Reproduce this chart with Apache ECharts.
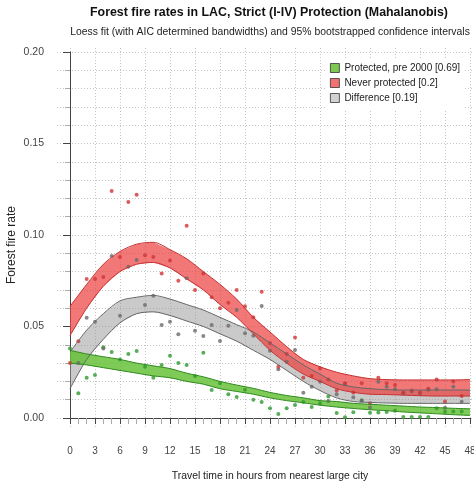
<!DOCTYPE html>
<html>
<head>
<meta charset="utf-8">
<script src="https://cdn.jsdelivr.net/npm/echarts@6/dist/echarts.min.js"></script>
<style>
  html, body { margin: 0; padding: 0; background: #fff; }
  #chart { width: 474px; height: 486px; }
</style>
</head>
<body>
<div id="chart"></div>
<script>
// Travel time (hours) at which each fire rate was measured
const hours = [0,1,2,3,4,5,6,7,8,9,10,11,12,13,14,15,16,17,18,19,20,21,22,23,
               24,25,26,27,28,29,30,31,32,33,34,35,36,37,38,39,40,41,42,43,44,45,46,47];

// Observed forest fire rates
const protectedRate = [0.038,0.0135,0.022,0.0235,0.0386,0.036,0.032,0.035,0.0366,0.028,0.022,0.029,
                       0.034,0.030,0.029,0.023,0.0357,0.0153,0.019,0.013,0.0115,0.0155,0.010,0.0088,
                       0.0053,0.0022,0.0053,0.0071,0.0088,0.006,0.008,0.0117,0.0027,0.0004,0.0032,0.0095,
                       0.0029,0.003,0.0033,0.004,0.0005,0.0005,0.0005,0.0005,0.0053,0.0034,0.0035,0.0036];
const neverRate = [0.030,0.042,0.076,0.076,0.077,0.124,0.088,0.118,0.122,0.089,0.088,0.079,
                   0.086,0.075,0.105,0.070,0.079,0.066,0.060,0.063,0.070,0.061,0.055,0.069,
                   0.041,0.028,0.035,0.044,0.022,0.023,0.027,0.021,0.015,0.019,0.014,0.019,
                   0.008,0.022,0.019,0.018,0.014,0.015,0.014,0.016,0.021,0.009,0.020,0.012];
const diffRate = [null,0.030,0.0548,0.0526,0.038,0.0885,0.0559,0.0827,0.0863,0.0617,0.0668,0.0508,
                  0.0526,0.0457,0.0763,0.0477,0.0448,0.0508,0.0421,0.0504,0.0590,0.0463,0.0450,0.0612,
                  0.0368,0.0266,0.0308,0.0372,0.0138,0.0171,0.0198,0.0093,0.013,0.0186,0.0113,0.0095,
                  0.0058,0.0198,0.0171,0.0157,0.0135,0.0145,0.0135,0.0155,0.0157,0.0056,0.0171,0.0089];

// Loess fits: 95% bootstrapped confidence bounds
const fitHours = [0,2,4,6,8,10,12,14,16,18,20,22,24,26,28,30,32,34,36,38,40,42,44,46,48];
const neverLo = [0.045,0.060,0.072,0.080,0.084,0.085,0.082,0.076,0.070,0.062,0.055,0.046,0.037,
                 0.030,0.024,0.020,0.016,0.014,0.013,0.0128,0.0125,0.0122,0.012,0.012,0.012];
const neverHi = [0.061,0.073,0.084,0.091,0.095,0.096,0.092,0.087,0.080,0.073,0.065,0.055,0.047,
                 0.039,0.032,0.028,0.025,0.023,0.0215,0.021,0.0208,0.0208,0.0208,0.0208,0.021];
const diffLo = [0.016,0.032,0.043,0.052,0.057,0.058,0.056,0.053,0.050,0.046,0.042,0.037,0.032,
                0.026,0.020,0.015,0.011,0.009,0.0085,0.0082,0.008,0.008,0.008,0.008,0.008];
const diffHi = [0.036,0.048,0.057,0.064,0.066,0.067,0.065,0.062,0.059,0.055,0.051,0.047,0.041,
                0.035,0.029,0.024,0.019,0.017,0.016,0.0155,0.0153,0.0153,0.0153,0.0153,0.0153];
const protLo = [0.030,0.029,0.0275,0.026,0.0245,0.023,0.022,0.020,0.0185,0.016,0.0145,0.013,0.011,
                0.0095,0.0083,0.007,0.006,0.0052,0.0045,0.004,0.0033,0.0028,0.0023,0.0018,0.0014];
const protHi = [0.037,0.035,0.0335,0.032,0.030,0.0285,0.027,0.0245,0.0225,0.020,0.018,0.0162,0.014,
                0.0123,0.011,0.0095,0.009,0.008,0.0075,0.007,0.0065,0.006,0.0057,0.0053,0.005];

// Axis ticks
const xTicks = { min: 0, max: 48, step: 3 };
const yTicks = { min: 0, max: 0.2, step: 0.05, guide: 0.01 };

const FONT = 'Liberation Sans, Arial, sans-serif';

const groups = [
  { name: 'Difference [0.19]', lo: diffLo, hi: diffHi, pts: diffRate,
    fill: 'rgba(150,150,150,0.5)', edge: '#666666', dot: '#6a6a6a', legend: '#d2d2d2' },
  { name: 'Protected, pre 2000 [0.69]', lo: protLo, hi: protHi, pts: protectedRate,
    fill: 'rgba(95,190,45,0.8)', edge: '#2f8a1f', dot: '#2e9a2e', legend: '#7cc850' },
  { name: 'Never protected [0.2]', lo: neverLo, hi: neverHi, pts: neverRate,
    fill: 'rgba(236,62,62,0.7)', edge: '#c43030', dot: '#d03535', legend: '#f07272' }
];

// confidence band as one filled polygon: lower bound forward, upper bound back
function bandRenderer(g) {
  return function (params, api) {
    if (params.dataIndex !== 0) return null;
    const pts = [];
    for (let i = 0; i < fitHours.length; i++) pts.push(api.coord([fitHours[i], g.lo[i]]));
    for (let i = fitHours.length - 1; i >= 0; i--) pts.push(api.coord([fitHours[i], g.hi[i]]));
    return {
      type: 'polygon',
      shape: { points: pts },
      style: { fill: g.fill, stroke: null }
    };
  };
}

const series = [];
groups.forEach(function (g) {
  series.push({
    type: 'custom', name: g.name, silent: true, clip: true,
    xAxisIndex: 0, yAxisIndex: 0,
    itemStyle: { color: g.legend },
    renderItem: bandRenderer(g),
    encode: { x: 0, y: [1, 2] },
    data: fitHours.map(function (h, i) { return [h, g.lo[i], g.hi[i]]; })
  });
  [g.lo, g.hi].forEach(function (bound, k) {
    series.push({
      type: 'line', name: g.name + (k ? ' upper' : ' lower'), silent: true,
      xAxisIndex: 0, yAxisIndex: 0, smooth: 0.3, symbol: 'none',
      lineStyle: { color: g.edge, width: 1 },
      data: fitHours.map(function (h, i) { return [h, bound[i]]; })
    });
  });
});
// observed points drawn above all bands
[groups[1], groups[0], groups[2]].forEach(function (g) {
  series.push({
    type: 'scatter', name: g.name + ' points', silent: true,
    xAxisIndex: 0, yAxisIndex: 0, symbolSize: 4,
    itemStyle: { color: g.dot },
    data: hours.map(function (h, i) { return g.pts[i] == null ? null : [h, g.pts[i]]; })
              .filter(function (d) { return d; })
  });
});

const guideLine = { show: true, lineStyle: { color: '#c4c4c4', type: [1, 2], width: 1 } };
const off = { show: false };
const gridBase = { outerBoundsMode: 'none', containLabel: false };

const option = {
  animation: false,
  backgroundColor: '#ffffff',
  textStyle: { fontFamily: FONT },
  title: [
    { text: 'Forest fire rates in LAC, Strict (I-IV) Protection (Mahalanobis)',
      left: 269, top: 7, textAlign: 'center', padding: 0,
      textStyle: { fontFamily: FONT, fontSize: 12.4, fontWeight: 'bold', color: '#111' } },
    { text: 'Loess fit (with AIC determined bandwidths) and 95% bootstrapped confidence intervals',
      left: 270, top: 27, textAlign: 'center', padding: 0,
      textStyle: { fontFamily: FONT, fontSize: 10.4, fontWeight: 'normal', color: '#222' } }
  ],
  legend: {
    orient: 'vertical', left: 327, top: 58, padding: [4, 3, 6, 3],
    backgroundColor: '#ffffff', itemWidth: 9, itemHeight: 9, itemGap: 3, itemTextGap: 10,
    selectedMode: false,
    textStyle: { fontFamily: FONT, fontSize: 10, color: '#222', lineHeight: 12 },
    data: [groups[1], groups[2], groups[0]].map(function (g) {
      return { name: g.name, icon: 'rect',
               itemStyle: { color: g.legend, borderColor: '#333', borderWidth: 0.8 } };
    })
  },
  graphic: [{
    type: 'text', x: 12, y: 245, rotation: Math.PI / 2, silent: true,
    style: { text: 'Forest fire rate', font: '12px ' + FONT, fill: '#222',
             align: 'center', verticalAlign: 'middle' }
  }],
  grid: [
    Object.assign({ left: 70, right: 4, top: 52, bottom: 68 }, gridBase),   // data area
    Object.assign({ left: 70, right: 4, top: 48, bottom: 58 }, gridBase),   // vertical guides
    Object.assign({ left: 57, right: 0, top: 52, bottom: 68 }, gridBase)    // horizontal guides
  ],
  xAxis: [
    { gridIndex: 0, type: 'value', min: xTicks.min, max: xTicks.max, interval: xTicks.step,
      offset: 14, splitLine: off,
      axisLine: { show: true, lineStyle: { color: '#444', width: 1 } },
      axisTick: { show: true, length: 6, lineStyle: { color: '#444' } },
      minorTick: { show: true, splitNumber: 3, length: 6, lineStyle: { color: '#aaa' } },
      axisLabel: { fontFamily: FONT, fontSize: 10, color: '#444', margin: 14, hideOverlap: false },
      name: 'Travel time in hours from nearest large city', nameLocation: 'middle', nameGap: 39,
      nameTextStyle: { fontFamily: FONT, fontSize: 10.4, color: '#222' } },
    { gridIndex: 1, type: 'value', min: xTicks.min, max: xTicks.max, interval: xTicks.step,
      axisLine: off, axisTick: off, axisLabel: off, splitLine: guideLine },
    { gridIndex: 2, type: 'value', min: 0, max: 1, show: false }
  ],
  yAxis: [
    { gridIndex: 0, type: 'value', min: yTicks.min, max: yTicks.max, interval: yTicks.step,
      offset: 15, splitLine: off,
      axisLine: { show: true, lineStyle: { color: '#444', width: 1 } },
      axisTick: { show: true, length: 7, lineStyle: { color: '#444' } },
      minorTick: { show: true, splitNumber: 5, length: 5, lineStyle: { color: '#aaa' } },
      axisLabel: { fontFamily: FONT, fontSize: 10.5, color: '#444', margin: 11,
                   formatter: function (v) { return v.toFixed(2); } } },
    { gridIndex: 1, type: 'value', min: 0, max: 1, show: false },
    { gridIndex: 2, type: 'value', min: yTicks.min, max: yTicks.max, interval: yTicks.guide,
      axisLine: off, axisTick: off, axisLabel: off, splitLine: guideLine }
  ],
  series: series
};

const chart = echarts.init(document.getElementById('chart'), null, { renderer: 'canvas' });
chart.setOption(option);
</script>
</body>
</html>
